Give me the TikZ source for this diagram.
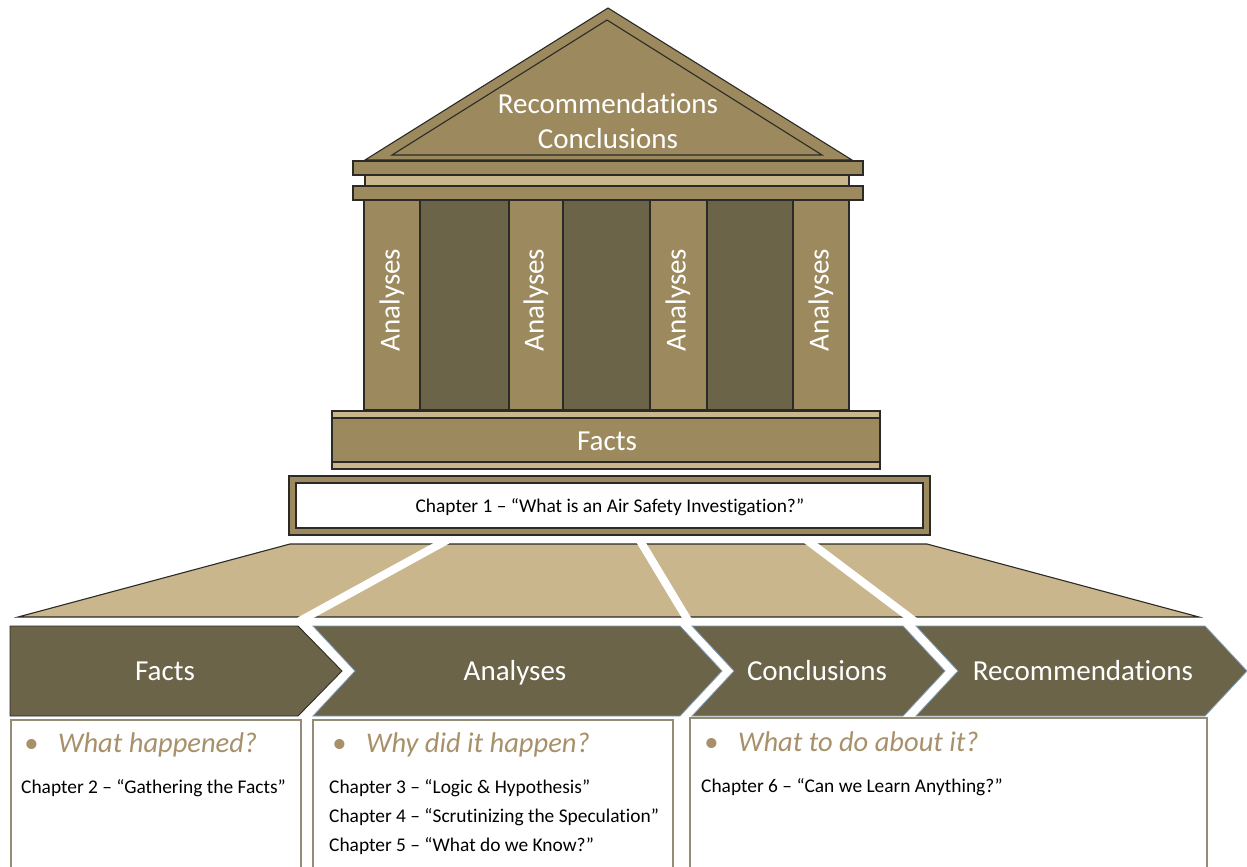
\documentclass[tikz,border=0pt]{standalone}
\usepackage{fontspec}
\setmainfont{Carlito}[Ligatures=NoCommon]
\definecolor{stone}{HTML}{9C8A5E}
\definecolor{darkstone}{HTML}{6B6449}
\definecolor{sand}{HTML}{C9B68D}
\definecolor{outline}{HTML}{2B2A26}
\definecolor{headtext}{HTML}{A8916A}
\definecolor{boxline}{HTML}{948C74}
\definecolor{edge}{HTML}{7F9DBA}
\begin{document}
\begin{tikzpicture}[x=1pt,y=-1pt,
  stonepart/.style={fill=stone,draw=outline,line width=1.1pt},
  darkpart/.style={fill=darkstone,draw=outline,line width=1.1pt},
  sandpart/.style={fill=sand,draw=outline,line width=1.1pt},
  chevron/.style={fill=darkstone,draw=edge,line width=0.8pt},
  gap/.style={draw=white,line width=8pt},
  bigtext/.style={text=white,font=\fontsize{29}{33}\selectfont,inner sep=0pt},
  headline/.style={text=headtext,font=\fontsize{28.5}{32}\selectfont\itshape,anchor=base west,inner sep=0pt},
  chaptext/.style={text=black,font=\fontsize{19.4}{22}\selectfont,anchor=base west,inner sep=0pt},
  infobox/.style={draw=boxline,line width=1.3pt,fill=white}]
\clip (0,0) rectangle (1247,867);
\fill[white] (0,0) rectangle (1247,867);

% pediment
\filldraw[stonepart] (365,160) -- (608,8) -- (852,160) -- cycle;
\draw[outline,line width=1.1pt] (392,155) -- (607,20) -- (822,155) -- cycle;
\node[bigtext,anchor=base] (pedRec) at (608,113) {Recommendations};
\node[bigtext,anchor=base] (pedCon) at (608,148) {Conclusions};

% entablature
\filldraw[stonepart] (353,161) rectangle (863,175);
\filldraw[sandpart] (365,175) rectangle (849,186);
\filldraw[stonepart] (353,186) rectangle (863,200);

% columns and the dark spaces between them
\filldraw[darkpart] (420,200) rectangle (509,410);
\filldraw[darkpart] (563,200) rectangle (650,410);
\filldraw[darkpart] (707,200) rectangle (793,410);
\filldraw[stonepart] (364,200) rectangle (420,410);
\filldraw[stonepart] (509,200) rectangle (563,410);
\filldraw[stonepart] (650,200) rectangle (707,410);
\filldraw[stonepart] (793,200) rectangle (849,410);
\node[bigtext,rotate=90] (col1) at (392,300) {Analyses};
\node[bigtext,rotate=90] (col2) at (536,300) {Analyses};
\node[bigtext,rotate=90] (col3) at (678,300) {Analyses};
\node[bigtext,rotate=90] (col4) at (821,300) {Analyses};

% base
\filldraw[sandpart] (332,411) rectangle (880,418);
\filldraw[stonepart] (332,418) rectangle (880,462);
\filldraw[sandpart] (332,462) rectangle (880,469);
\node[bigtext,anchor=base] (baseFacts) at (607,450) {Facts};

% chapter 1 plinth
\filldraw[stonepart] (289,476) rectangle (930,535);
\filldraw[fill=white,draw=outline,line width=1.1pt] (296,483) rectangle (923,528);
\node[text=black,font=\fontsize{19.4}{22}\selectfont,inner sep=0pt,anchor=base] (chap1) at (610,512)
  {Chapter 1 – “What is an Air Safety Investigation?”};

% steps spreading to the process chain
\filldraw[sandpart] (290,544) -- (927,544) -- (1199,617) -- (18,617) -- cycle;
\draw[gap] (447.3,540) -- (299.7,621);
\draw[gap] (639.6,540) -- (688.4,621);
\draw[gap] (806.7,540) -- (914.3,621);

% process chevrons
\filldraw[fill=darkstone,draw=outline,line width=0.9pt] (10,626) -- (298,626) -- (342,671) -- (298,716) -- (10,716) -- cycle;
\filldraw[chevron] (313,626) -- (680,626) -- (722,671) -- (680,716) -- (313,716) -- (355,671) -- cycle;
\filldraw[chevron] (692,626) -- (903,626) -- (945,671) -- (903,716) -- (692,716) -- (734,671) -- cycle;
\filldraw[chevron] (916,626) -- (1205,626) -- (1247,671) -- (1205,716) -- (916,716) -- (958,671) -- cycle;
\node[bigtext,anchor=base] (chFacts) at (165,680) {Facts};
\node[bigtext,anchor=base] (chAnalyses) at (515,680) {Analyses};
\node[bigtext,anchor=base] (chConclusions) at (817,680) {Conclusions};
\node[bigtext,anchor=base] (chRecommend) at (1083,680) {Recommendations};

% detail boxes
\draw[infobox] (11,720) rectangle (301,880);
\draw[infobox] (313,720) rectangle (673,880);
\draw[infobox] (690,718) rectangle (1207,880);

\node[headline] (bul1) at (24,752) {•};
\node[headline] (head1) at (58,752) {What happened?};
\node[chaptext] (c2) at (21,793) {Chapter 2 – “Gathering the Facts”};

\node[headline] (bul2) at (332,752) {•};
\node[headline] (head2) at (366,752) {Why did it happen?};
\node[chaptext] (c3) at (329,793) {Chapter 3 – “Logic \& Hypothesis”};
\node[chaptext] (c4) at (329,822) {Chapter 4 – “Scrutinizing the Speculation”};
\node[chaptext] (c5) at (329,851) {Chapter 5 – “What do we Know?”};

\node[headline] (bul3) at (704,751) {•};
\node[headline] (head3) at (738,751) {What to do about it?};
\node[chaptext] (c6) at (701,792) {Chapter 6 – “Can we Learn Anything?”};
\end{tikzpicture}
\end{document}
